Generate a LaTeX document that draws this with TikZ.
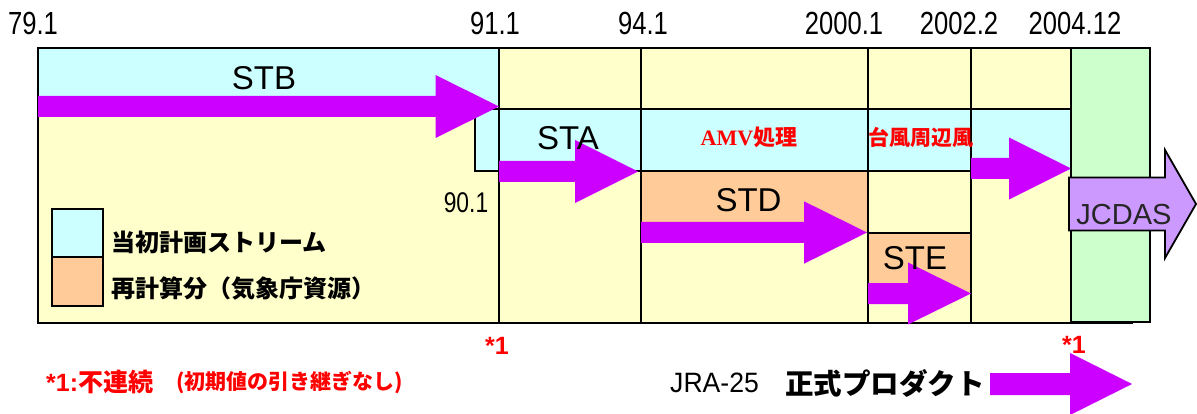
\documentclass[tikz,border=0pt]{standalone}
\usepackage{fontspec}
\setmainfont{Liberation Sans}
\newfontfamily\narrowf{Liberation Sans}[FakeStretch=0.8]
\newfontfamily\semif{Liberation Sans}[FakeStretch=0.95]
\newfontfamily\cjk{Noto Sans CJK JP}
\newfontfamily\serifb{Liberation Serif}
\definecolor{cyanbg}{HTML}{CCFFFF}
\definecolor{yellowbg}{HTML}{FFFFCC}
\definecolor{orangebg}{HTML}{FFCC99}
\definecolor{greenbg}{HTML}{CCFFCC}
\definecolor{flowmag}{HTML}{CC00FF}
\definecolor{lilac}{HTML}{CC99FF}
\definecolor{redtxt}{HTML}{FF0000}
\newcommand\fsz[1]{\fontsize{#1}{#1}\selectfont}
% block arrow: x start, x head start, x tip, y centre, shaft half, head half
\newcommand\mkarrow[7][flow]{%
  \path[#1] (#2,#5-#6) -- (#3,#5-#6) -- (#3,#5-#7) -- (#4,#5) -- (#3,#5+#7) -- (#3,#5+#6) -- (#2,#5+#6) -- cycle;}
\tikzset{
  rule/.style={draw=black, line width=1.8pt},
  flow/.style={fill=flowmag, draw=none},
  bigflow/.style={fill=lilac, draw=black, line width=1.8pt, line join=miter},
  lbl/.style={inner sep=0pt, anchor=center},
  num/.style={lbl, font=\narrowf\fsz{32}},
  stream/.style={lbl, font=\fsz{33}},
  legtxt/.style={inner sep=0pt, anchor=west, font=\cjk\bfseries\fsz{24}},
  note/.style={inner sep=0pt, text=redtxt},
}
\begin{document}
\begin{tikzpicture}[x=1pt, y=-1pt]
\useasboundingbox (0,0) rectangle (1197,414);
% backgrounds
\fill[yellowbg] (38,48) rectangle (1071,323);
\fill[cyanbg] (38,48) rectangle (499,109);
\fill[cyanbg] (499,109) rectangle (1071,171);
\fill[cyanbg] (475,109) rectangle (499,171);
\fill[orangebg] (641,171) rectangle (868,232);
\fill[orangebg] (868,233) rectangle (971,294);
% rules
\draw[rule, line width=1.2pt] (1071,323.5) -- (1133,323.5);
\draw[rule] (38,48) rectangle (1071,323);
\foreach \xx in {499,641,868,971} \draw[rule] (\xx,48) -- (\xx,323);
\draw[rule] (499,109) -- (1071,109);
\draw[rule] (475,171) -- (971,171);
\draw[rule] (475,109) rectangle (499,171);
\draw[rule] (868,233) -- (971,233);
% legend
\draw[rule, fill=cyanbg] (52,209) rectangle (103,257);
\draw[rule, fill=orangebg] (52,257) rectangle (103,306);
% flow arrows
\mkarrow{38}{435.5}{499}{106.5}{10.5}{31.5}
\mkarrow{499}{575}{638}{171.5}{10.5}{31.5}
\mkarrow{971}{1009}{1071}{168.5}{10.5}{31}
\mkarrow{641}{804}{867}{232.5}{10.5}{31.2}
\mkarrow{868}{908}{971}{293.5}{10.5}{31}
\mkarrow{990}{1070}{1132}{384}{11}{31}
% JCDAS
\draw[rule, fill=greenbg] (1071,48) rectangle (1150,322);
\mkarrow[bigflow]{1069}{1165}{1196}{204}{26.5}{54}
% labels
\node[num] (t791) at (33,23.5) {79.1};
\node[num] (t911) at (495,23.5) {91.1};
\node[num] (t941) at (643,23.5) {94.1};
\node[num] (t2001) at (844,23.5) {2000.1};
\node[num] (t2022) at (959,23.5) {2002.2};
\node[num] (t2412) at (1075,23.5) {2004.12};
\node[lbl, font=\narrowf\fsz{28.5}] (t901) at (466,203) {90.1};
\node[stream] (stb) at (264,78) {STB};
\node[stream] (sta) at (568,138.5) {STA};
\node[stream] (std) at (748.5,200) {STD};
\node[stream] (ste) at (915,258) {STE};
\node[lbl, text=redtxt, font=\fsz{22}] (amv) at (749,137) {{\serifb\bfseries AMV}{\cjk\bfseries 処理}};
\node[lbl, text=redtxt, font=\cjk\bfseries\fsz{21}] (typh) at (921,137) {台風周辺風};
\node[lbl, text=black!85, font=\fsz{29}] (jcdas) at (1124,215) {JCDAS};
\node[legtxt] (leg1) at (111,242) {当初計画ストリーム};
\node[legtxt] (leg2) at (111,289) {再計算分（気象庁資源）};
\node[note, lbl, font=\bfseries\fsz{25}] (s1a) at (497,346) {*1};
\node[note, lbl, font=\bfseries\fsz{25}] (s1b) at (1074,345) {*1};
\node[note, anchor=west, font=\bfseries\fsz{25}] (fn1) at (46,382) {*1:{\cjk 不連続}};
\node[note, anchor=west, font=\cjk\bfseries\fsz{21}] (fn2) at (176,382) {(初期値の引き継ぎなし)};
\node[inner sep=0pt, anchor=west, font=\semif\fsz{28}] (jra) at (670,383) {JRA-25};
\node[inner sep=0pt, anchor=west, font=\cjk\bfseries\fsz{28.5}] (prod) at (785,383.5) {正式プロダクト};
\end{tikzpicture}
\end{document}
